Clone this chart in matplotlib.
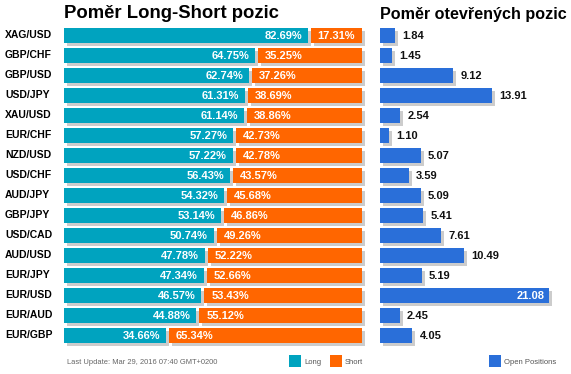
import matplotlib

matplotlib.use("Agg")

import matplotlib.pyplot as plt
from matplotlib.patches import Rectangle

plt.rcParams["font.family"] = ["Liberation Sans", "DejaVu Sans"]

PAIRS = [
    "XAG/USD", "GBP/CHF", "GBP/USD", "USD/JPY", "XAU/USD", "EUR/CHF", "NZD/USD", "USD/CHF",
    "AUD/JPY", "GBP/JPY", "USD/CAD", "AUD/USD", "EUR/JPY", "EUR/USD", "EUR/AUD", "EUR/GBP",
]
LONG_PCT = [82.69, 64.75, 62.74, 61.31, 61.14, 57.27, 57.22, 56.43,
            54.32, 53.14, 50.74, 47.78, 47.34, 46.57, 44.88, 34.66]
SHORT_PCT = [17.31, 35.25, 37.26, 38.69, 38.86, 42.73, 42.78, 43.57,
             45.68, 46.86, 49.26, 52.22, 52.66, 53.43, 55.12, 65.34]
OPEN_POS = [1.84, 1.45, 9.12, 13.91, 2.54, 1.10, 5.07, 3.59,
            5.09, 5.41, 7.61, 10.49, 5.19, 21.08, 2.45, 4.05]

TEAL = "#00a3bf"
ORANGE = "#ff6600"
BLUE = "#2a6fd9"
SHADOW = "#cccccc"

W, H = 571, 374
fig = plt.figure(figsize=(W / 100, H / 100), dpi=100)


def px_axes(x0, y0, x1, y1):
    return fig.add_axes([x0 / W, 1 - y1 / H, (x1 - x0) / W, (y1 - y0) / H])


PX_PER_PCT = 2.95
left_ax = px_axes(64, 25.5, 370, 345.5)
left_ax.set_xlim(0, 306 / PX_PER_PCT)
left_ax.set_ylim(len(PAIRS) - 0.5, -0.5)
left_ax.set_axis_off()

gap = 3 / PX_PER_PCT
sx = 3 / PX_PER_PCT
sy = 3 / 20
bh = 0.75
for i, (lp, sp) in enumerate(zip(LONG_PCT, SHORT_PCT)):
    for x0, w, color in ((0, lp, TEAL), (lp + gap, sp, ORANGE)):
        left_ax.add_patch(Rectangle((x0 + sx, i - bh / 2 + sy), w, bh, color=SHADOW, lw=0))
        left_ax.add_patch(Rectangle((x0, i - bh / 2), w, bh, color=color, lw=0))
    left_ax.text(lp - 2, i + 0.02, f"{lp:.2f}%", color="white", fontsize=8, fontweight="bold",
                 ha="right", va="center")
    left_ax.text(lp + gap + 2.3, i + 0.02, f"{sp:.2f}%", color="white", fontsize=8,
                 fontweight="bold", ha="left", va="center")
    fig.text(5 / W, 1 - (35.5 + 20 * i) / H, PAIRS[i], fontsize=7.5, fontweight="bold",
             ha="left", va="center")

PX_PER_UNIT = 8.02
right_ax = px_axes(380, 25.5, 571, 345.5)
right_ax.set_xlim(0, 191 / PX_PER_UNIT)
right_ax.set_ylim(len(PAIRS) - 0.5, -0.5)
right_ax.set_axis_off()

rsx = 3 / PX_PER_UNIT
for i, v in enumerate(OPEN_POS):
    right_ax.add_patch(Rectangle((rsx, i - bh / 2 + sy), v, bh, color=SHADOW, lw=0))
    right_ax.add_patch(Rectangle((0, i - bh / 2), v, bh, color=BLUE, lw=0))
    if v > 20:
        right_ax.text(v - 0.6, i + 0.02, f"{v:.2f}", color="white", fontsize=8,
                      fontweight="bold", ha="right", va="center")
    else:
        right_ax.text(v + 0.9, i + 0.02, f"{v:.2f}", color="#111111", fontsize=8,
                      fontweight="bold", ha="left", va="center")

fig.text(64 / W, 1 - 14 / H, "Poměr Long-Short pozic", fontsize=13.3, fontweight="bold",
         ha="left", va="center")
fig.text(380 / W, 1 - 14 / H, "Poměr otevřených pozic", fontsize=11.6, fontweight="bold",
         ha="left", va="center")

fig.text(67 / W, 1 - 362 / H, "Last Update: Mar 29, 2016 07:40 GMT+0200", fontsize=5.4,
         color="#666666", ha="left", va="center")
for x, color, label in ((289, TEAL, "Long"), (330, ORANGE, "Short"), (489, BLUE, "Open Positions")):
    fig.patches.append(Rectangle((x / W, 1 - 367 / H), 12 / W, 12 / H, color=color, lw=0,
                                 transform=fig.transFigure, figure=fig))
    fig.text((x + 15) / W, 1 - 362 / H, label, fontsize=5.5, color="#555555",
             ha="left", va="center")

fig.savefig("out.png", dpi=100)
